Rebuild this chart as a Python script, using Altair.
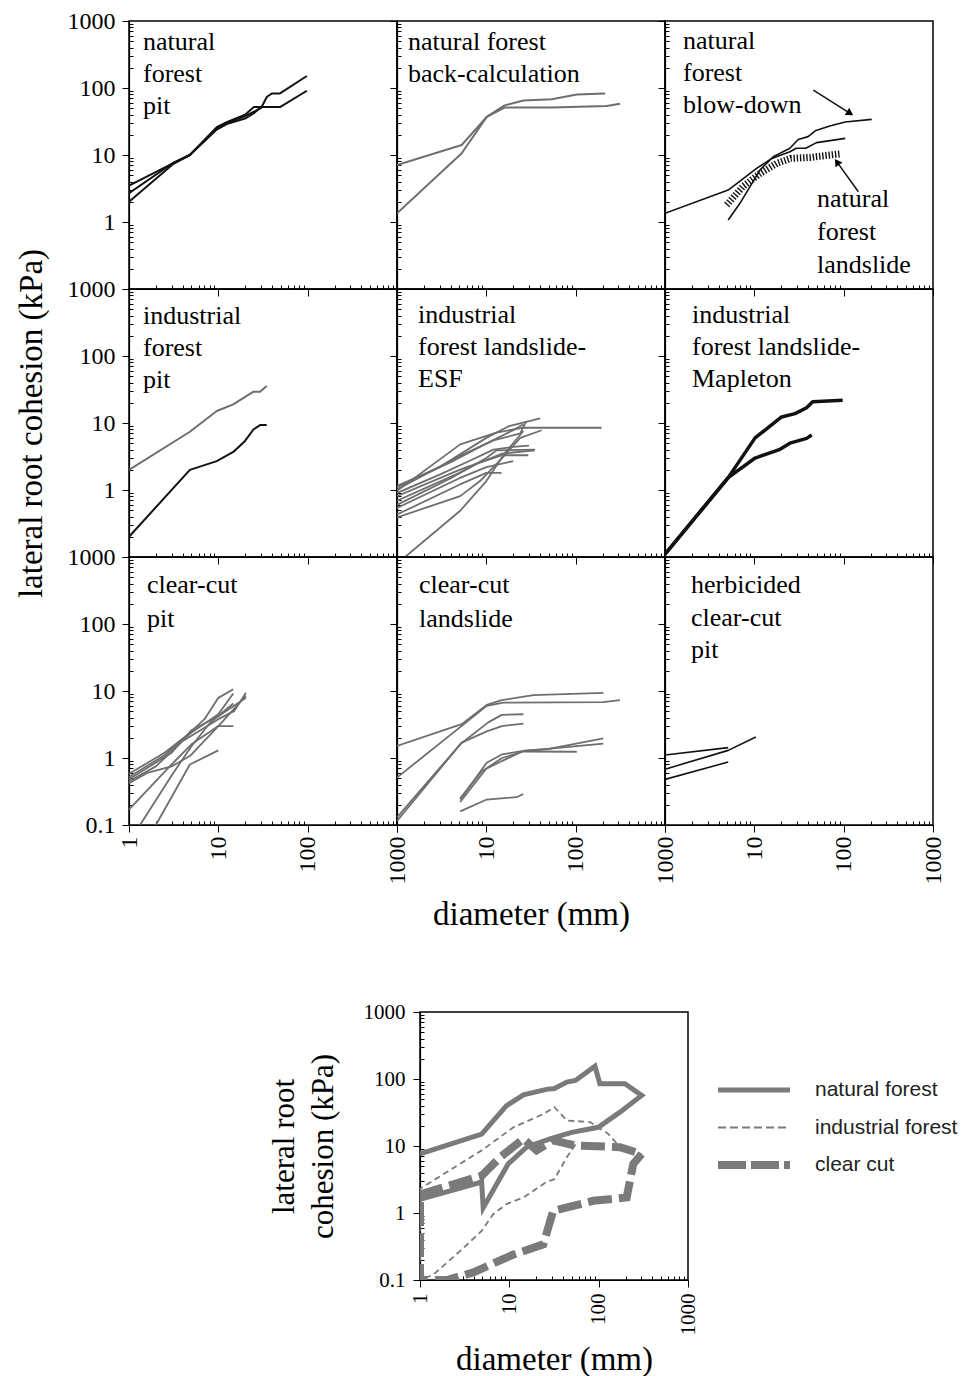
import altair as alt
import pandas as pd

SERIF = "Liberation Serif"
SANS = "Liberation Sans"
BLACK = "#111111"
GRAY = "#6e6e6e"
GRAY_B = "#7a7a7a"

# ---------------- data ----------------
# natural forest pit
NF_PIT = [
    ([1, 3.1, 4.8, 9.6, 12.4, 19.9, 25, 49, 98], [3.5, 7.5, 10, 26, 31, 40, 52, 52, 91]),
    ([1, 3.1, 4.8, 9.6, 12.4, 19.9, 30, 35, 40, 49, 98], [2.7, 7.6, 10, 25, 30, 38, 50, 74, 83, 83, 151]),
    ([1, 3.1, 4.8, 9.6, 12.4, 19.9, 25, 30], [2.0, 7.3, 10, 24, 29, 35, 42, 52]),
]
# natural forest back-calculation
NF_BACK = [
    ([1, 5.3, 10.1, 16, 26, 54, 103, 214], [7.1, 14.1, 37, 55, 65, 68, 80, 83]),
    ([1, 5.3, 10.1, 16, 54, 223, 314], [1.35, 10.6, 37, 51, 51, 54, 58]),
]
# natural forest blow-down
NF_BLOW = [
    ([1, 5.1, 10.6, 15.7, 25, 29.5, 37.6, 49.7, 104], [1.35, 3.0, 6.3, 8.9, 11.2, 12.6, 12.6, 15.3, 17.7]),
    ([5.1, 6.9, 11.6, 16.3, 25, 31, 40, 48, 70, 104, 206], [1.07, 1.9, 6.0, 9.4, 12.6, 17, 18.8, 23, 27, 31, 34]),
]
# natural forest landslide (hatched)
NF_SLIDE = [
    ([4.9, 7.5, 11.6, 17.8, 25.5, 42, 91], [1.8, 3.4, 5.3, 7.5, 8.9, 9.2, 10.4]),
]
ARROWS = [
    ([45.8, 118], [93, 41.9]),
    ([146, 84], [2.83, 7.9]),
]
ARROW_HEAD_X = [118, 84]
ARROW_HEAD_Y = [41.9, 7.9]
ARROW_HEAD_ANGLE = [122, 325]

# industrial forest pit
IF_PIT_GRAY = [
    ([1, 4.8, 9.6, 14.7, 24.7, 29.3, 34.8], [2.0, 7.4, 15.1, 19, 29.3, 29.3, 35.6]),
]
IF_PIT_BLACK = [
    ([1, 4.8, 9.6, 14.7, 19.9, 24.7, 29.3, 34.8], [0.2, 2.0, 2.7, 3.7, 5.4, 8.0, 9.3, 9.3]),
]
# industrial forest landslide - ESF
IF_ESF = [
    ([1, 3, 10, 18, 40], [1.15, 2.2, 6.0, 9.0, 11.7]),
    ([1, 5.1, 13, 26, 195], [0.97, 4.8, 7.2, 8.5, 8.5]),
    ([1, 5, 12, 24, 28], [1.02, 3.2, 5.5, 7.0, 10.7]),
    ([1, 5, 10, 15, 35], [0.81, 2.0, 2.8, 3.5, 3.9]),
    ([1, 5, 8, 15, 29.5], [0.69, 1.8, 2.5, 3.3, 3.3]),
    ([1, 5, 10, 20], [0.54, 1.5, 2.2, 2.7]),
    ([1, 5, 10, 14.8], [0.43, 1.2, 1.8, 1.8]),
    ([1, 5.1, 8.5, 15, 24, 41.6], [0.39, 0.81, 1.36, 3.0, 6.0, 7.8]),
    ([1.23, 5.1, 10, 16, 26], [0.1, 0.49, 1.36, 3.5, 7.6]),
    ([1, 4, 10, 13, 35], [0.6, 1.5, 3.0, 3.9, 4.0]),
    ([1, 3, 6, 12, 20, 30], [0.9, 1.7, 2.6, 4.0, 4.4, 4.6]),
    ([1, 4, 9, 20, 26], [1.1, 2.6, 4.6, 7.8, 9.6]),
]
# industrial forest landslide - Mapleton
IF_MAPLE = [
    ([1, 5.1, 10.2, 20.2, 28.5, 38.5, 45, 97.5], [0.11, 1.53, 6.0, 12.3, 13.8, 16.9, 20.8, 21.8]),
    ([1, 5.1, 10.2, 19.4, 25, 38.5, 43.8], [0.11, 1.53, 3.0, 4.05, 5.0, 5.9, 6.6]),
]
# clear-cut pit
CC_PIT = [
    ([1, 2.5, 4.5, 7, 10, 14.7], [0.58, 1.2, 2.2, 3.8, 7.9, 10.6]),
    ([1, 2.5, 5, 10, 14.7], [0.52, 1.1, 2.4, 4.5, 9.2]),
    ([1, 2, 4, 10, 15, 20.4], [0.45, 0.75, 1.8, 3.8, 5.0, 9.4]),
    ([1, 3, 5, 10, 20.4], [0.48, 1.2, 2.6, 4.2, 7.9]),
    ([1, 1.6, 3, 4.8, 10, 20.4], [0.42, 0.6, 0.75, 1.07, 3.0, 8.5]),
    ([1, 3, 5, 10, 14.7], [0.17, 0.8, 1.6, 3.0, 3.0]),
    ([1.33, 3, 5, 8, 14.7], [0.1, 0.55, 1.5, 3.3, 6.5]),
    ([2, 4.8, 10], [0.1, 0.8, 1.3]),
]
# clear-cut landslide
CC_SLIDE = [
    ([1, 5.3, 10.1, 14.9, 33.6, 204], [1.51, 3.2, 6.2, 7.3, 8.7, 9.4]),
    ([1, 10.1, 15.5, 204, 313], [0.51, 6.0, 6.7, 6.8, 7.3]),
    ([1, 5.1, 10.5, 14.9, 26], [0.13, 1.6, 3.4, 4.4, 4.5]),
    ([1, 5.3, 10.1, 14.9, 26], [0.115, 1.7, 2.5, 3.0, 3.25]),
    ([5.1, 10.1, 14.9, 28, 47, 204], [0.24, 0.85, 1.13, 1.3, 1.35, 1.97]),
    ([5.1, 8.9, 14.9, 26, 204], [0.25, 0.64, 0.9, 1.27, 1.64]),
    ([5.1, 10.1, 21.8, 26], [0.16, 0.24, 0.26, 0.29]),
    ([5.1, 10, 15, 26, 103], [0.22, 0.7, 1.0, 1.25, 1.24]),
]
# herbicided clear-cut pit
HB_PIT = [
    ([1, 5.1], [1.11, 1.43]),
    ([1, 5.1, 10.4], [0.68, 1.3, 2.06]),
    ([1, 5.1], [0.48, 0.87]),
]

# summary chart envelopes
SUM_NAMES = ["natural forest", "industrial forest", "clear cut"]
NAT_X = [1, 4.9, 9.3, 14.4, 26, 32, 44, 55, 91, 103, 197, 303, 173, 99, 50, 28.5, 15.6, 9.7, 5.1, 4.9, 1]
NAT_Y = [7.6, 15, 40, 58, 70, 72, 90, 95, 155, 85, 85, 57, 32, 19, 16, 12.8, 9.6, 5.4, 1.2, 2.9, 1.6]
IND_X = [55, 44, 32, 26, 14.4, 9.3, 6.6, 4.9, 2.8, 1.41, 1, 1, 4.9, 11.1, 24, 32, 44, 80, 128, 173, 303]
IND_Y = [10.5, 6.8, 3.2, 2.9, 1.71, 1.36, 0.96, 0.54, 0.27, 0.12, 0.1, 2.3, 8.6, 19, 30, 38, 24, 22.8, 15.2, 9.6, 7.6]
CLR_X = [303, 244, 206, 87, 31, 24, 11.1, 3.95, 2.0, 1, 1, 4.9, 7.9, 14.4, 20.2, 31, 54, 173, 303]
CLR_Y = [7.6, 5.4, 1.71, 1.52, 1.08, 0.34, 0.24, 0.13, 0.1, 0.1, 1.9, 3.6, 6.8, 12.8, 8.6, 12.1, 10.2, 9.6, 7.6]

X_TICKS = sorted({round(m * 10 ** e, 6) for e in range(0, 3) for m in range(1, 10)} | {1000})
Y_TICKS = sorted({round(m * 10 ** e, 6) for e in range(-1, 3) for m in range(1, 10)} | {1000})

# ---------------- helpers ----------------
XS = alt.Scale(type="log", domain=[1, 1000], nice=False)
YS = alt.Scale(type="log", domain=[0.1, 1000], nice=False)
MAJOR_TEST = "indexof([0.1, 1, 10, 100, 1000], datum.value) >= 0"
TICK = {"condition": {"test": MAJOR_TEST, "value": 7}, "value": -4}
LBL_ALL = ("datum.value == 1000 ? '1000' : datum.value == 100 ? '100' : datum.value == 10 ? '10' : "
           "datum.value == 1 ? '1' : datum.value == 0.1 ? '0.1' : ''")
LBL_NO01 = ("datum.value == 1000 ? '1000' : datum.value == 100 ? '100' : datum.value == 10 ? '10' : "
            "datum.value == 1 ? '1' : ''")
LBL_NO1 = ("datum.value == 1000 ? '1000' : datum.value == 100 ? '100' : datum.value == 10 ? '10' : ''")

W = 268
H = 268


def to_df(lines):
    rows = []
    for i, (xs, ys) in enumerate(lines):
        for j, (xv, yv) in enumerate(zip(xs, ys)):
            rows.append({"x": xv, "y": yv, "line": i, "order": j})
    return pd.DataFrame(rows)


def x_enc(row, col):
    bottom = row == 2
    ax = alt.Axis(values=X_TICKS, labels=bottom, labelExpr=(LBL_ALL if col == 0 else LBL_NO1),
                  labelAngle=270, labelAlign="right", labelBaseline="middle", labelFontSize=24,
                  labelPadding=4, labelOverlap=False, labelFlush=False, tickSize=TICK,
                  titleFontSize=33, titlePadding=14)
    title = "diameter (mm)" if (bottom and col == 1) else None
    return alt.X("x:Q", scale=XS, axis=ax, title=title)


def y_enc(row, col):
    left = col == 0
    ax = alt.Axis(values=Y_TICKS, labels=left, labelExpr=(LBL_ALL if row == 2 else LBL_NO01),
                  labelFontSize=24, labelPadding=7, labelOverlap=False, labelFlush=False,
                  tickSize=TICK, titleFontSize=33, titlePadding=19)
    title = "lateral root cohesion (kPa)" if (left and row == 1) else None
    return alt.Y("y:Q", scale=YS, axis=ax, title=title)


def line_layer(lines, color, width, row, col, dash=None):
    mk = dict(color=color, strokeWidth=width, clip=True, strokeJoin="round")
    if dash:
        mk["strokeDash"] = dash
    return alt.Chart(to_df(lines)).mark_line(**mk).encode(
        x=x_enc(row, col), y=y_enc(row, col), detail="line:N", order="order:Q")


def label_layer(text, px, py, lh=32):
    return alt.Chart(pd.DataFrame({"t": [text]})).mark_text(
        align="left", baseline="alphabetic", font=SERIF, fontSize=26, lineHeight=lh,
        lineBreak="\n", color="black").encode(x=alt.value(px), y=alt.value(py), text="t:N")


def panel(layers):
    return alt.layer(*layers).properties(width=W, height=H)


# ---------------- panels ----------------
p1 = panel([line_layer(NF_PIT, BLACK, 2, 0, 0), label_layer("natural\nforest\npit", 14, 29)])
p2 = panel([line_layer(NF_BACK, GRAY, 2, 0, 1), label_layer("natural forest\nback-calculation", 11, 29)])

arrow_heads = alt.Chart(pd.DataFrame({"x": ARROW_HEAD_X, "y": ARROW_HEAD_Y, "a": ARROW_HEAD_ANGLE})).mark_point(
    shape="triangle-up", filled=True, size=70, color="black", opacity=1).encode(
    x=x_enc(0, 2), y=y_enc(0, 2), angle=alt.Angle("a:Q", scale=None))
p3 = panel([
    line_layer(NF_BLOW, BLACK, 1.6, 0, 2),
    line_layer(NF_SLIDE, BLACK, 7, 0, 2, dash=[1.4, 1.8]),
    line_layer(ARROWS, BLACK, 1.5, 0, 2),
    arrow_heads,
    label_layer("natural\nforest\nblow-down", 18, 28),
    label_layer("natural\nforest\nlandslide", 152, 186, lh=33),
])

p4 = panel([line_layer(IF_PIT_GRAY, GRAY, 2, 1, 0), line_layer(IF_PIT_BLACK, BLACK, 2, 1, 0),
            label_layer("industrial\nforest\npit", 14, 35)])
p5 = panel([line_layer(IF_ESF, GRAY, 1.8, 1, 1), label_layer("industrial\nforest landslide-\nESF", 21, 34)])
p6 = panel([line_layer(IF_MAPLE, BLACK, 3.5, 1, 2), label_layer("industrial\nforest landslide-\nMapleton", 27, 34)])

p7 = panel([line_layer(CC_PIT, GRAY, 1.8, 2, 0), label_layer("clear-cut\npit", 18, 36, lh=34)])
p8 = panel([line_layer(CC_SLIDE, GRAY, 1.8, 2, 1), label_layer("clear-cut\nlandslide", 22, 36, lh=34)])
p9 = panel([line_layer(HB_PIT, BLACK, 1.6, 2, 2), label_layer("herbicided\nclear-cut\npit", 26, 36, lh=32.5)])

grid = alt.concat(p1, p2, p3, p4, p5, p6, p7, p8, p9, columns=3, spacing=0, bounds="flush")

# ---------------- summary chart ----------------
bx = alt.X("x:Q", scale=XS, title="diameter (mm)",
           axis=alt.Axis(values=X_TICKS, labelExpr=LBL_ALL, labelAngle=270, labelAlign="right",
                         labelBaseline="middle", labelFontSize=21, labelPadding=6, labelOverlap=False,
                         labelFlush=False, tickSize=TICK, titleFontSize=33, titlePadding=8))
by = alt.Y("y:Q", scale=YS, title=["lateral root", "cohesion (kPa)"],
           axis=alt.Axis(values=Y_TICKS, labelExpr=LBL_ALL, labelFontSize=21, labelPadding=8,
                         labelOverlap=False, labelFlush=False, tickSize=TICK, titleFontSize=31,
                         titleLineHeight=39, titlePadding=24))


def sum_layer(xs, ys, width, dash=None):
    df = pd.DataFrame({"x": xs, "y": ys, "order": list(range(len(xs)))})
    mk = dict(color=GRAY_B, strokeWidth=width, clip=True, strokeJoin="miter")
    if dash:
        mk["strokeDash"] = dash
    return alt.Chart(df).mark_line(**mk).encode(x=bx, y=by, order="order:Q")


summary = alt.layer(
    sum_layer(CLR_X, CLR_Y, 8, [24, 7]),
    sum_layer(IND_X, IND_Y, 1.8, [6, 4]),
    sum_layer(NAT_X, NAT_Y, 5),
).properties(width=W, height=H)

LEG_STYLES = [(5, None), (2, [8, 4]), (8, [28, 5])]
ly = alt.Y("s:N", scale=alt.Scale(type="point", domain=SUM_NAMES, range=[78, 153], padding=0), axis=None)
lx = alt.X("x:Q", scale=alt.Scale(domain=[0, 1]), axis=None)
leg_layers = []
for name, (w, d) in zip(SUM_NAMES, LEG_STYLES):
    mk = dict(color=GRAY_B, strokeWidth=w)
    if d:
        mk["strokeDash"] = d
    leg_layers.append(alt.Chart(pd.DataFrame({"x": [0, 1], "s": [name, name]})).mark_line(**mk).encode(x=lx, y=ly))
leg_layers.append(alt.Chart(pd.DataFrame({"x": [1, 1, 1], "s": SUM_NAMES})).mark_text(
    align="left", baseline="middle", dx=25, font=SANS, fontSize=21, color="#222222").encode(x=lx, y=ly, text="s:N"))
legend = alt.layer(*leg_layers).properties(width=72, height=H, view=alt.ViewBackground(stroke="transparent"))

spacer = alt.Chart(pd.DataFrame({"v": [0]})).mark_point(opacity=0).encode(
    x=alt.X("v:Q", axis=None), y=alt.Y("v:Q", axis=None)
).properties(width=261, height=H, view=alt.ViewBackground(stroke="transparent"))

bottom = alt.hconcat(spacer, summary, legend, spacing=30, bounds="flush")

chart = alt.vconcat(grid, bottom, spacing=68).configure_view(
    stroke="black", strokeWidth=1.5
).configure_axis(
    domainColor="black", domainWidth=1.2, tickColor="black", tickWidth=1, labelColor="black",
    titleColor="black", labelFont=SERIF, titleFont=SERIF, titleFontWeight="normal", grid=False
).properties(padding={"left": 6, "top": 0, "right": 0, "bottom": 5}, background="white")

chart.save("out.html", embed_options={"renderer": "svg", "actions": False})
